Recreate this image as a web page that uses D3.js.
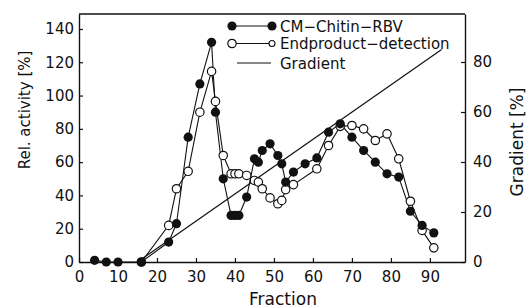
<!DOCTYPE html>
<html>
<head>
<meta charset="utf-8">
<script src="https://cdn.jsdelivr.net/npm/d3@7"></script>
<style>
  body { margin: 0; background: #fff; }
  text { font-family: "DejaVu Sans", sans-serif; fill: #111; }
</style>
</head>
<body>
<div id="chart-area"></div>
<script>
// CM-Chitin-RBV (filled)
let rbvX = [4, 7, 10, 16, 23, 25, 28, 31, 34, 35, 37, 39, 40, 41, 43, 45, 46, 47, 49, 51, 52, 53, 55, 58, 61, 64, 67, 70, 73, 76, 79, 82, 85, 88, 91];
let rbvY = [1, 0, 0, 0, 12, 23, 75, 107, 132, 90, 50, 28, 28, 28, 39, 62, 60, 67, 71, 64, 59, 48, 54, 59, 62.5, 78, 83, 75, 67, 60, 53, 51, 30.5, 22, 17.5];

// Endproduct-detection (open)
let endX = [16, 23, 25, 28, 31, 34, 35, 37, 39, 40, 41, 43, 45, 46, 47, 49, 51, 52, 53, 55, 61, 64, 67, 70, 73, 76, 79, 82, 85, 88, 91];
let endY = [0, 22, 44, 54.5, 90, 114.5, 96.5, 64, 53, 53, 53, 52, 49, 48, 44, 38.5, 35, 37, 43.5, 46.5, 56, 70, 81.5, 82, 80, 73, 77, 62, 36.5, 19, 8.5];

// Gradient (right axis)
let gradX = [15, 93];
let gradY = [0, 85];

let xTicks = [0, 10, 20, 30, 40, 50, 60, 70, 80, 90];
let yTicks = [0, 20, 40, 60, 80, 100, 120, 140];
let y2Ticks = [0, 20, 40, 60, 80];

let margin = { left: 79, right: 61, top: 14, bottom: 46 };
let W = 526, H = 308;
let width = W - margin.left - margin.right,
    height = H - margin.top - margin.bottom;

let svg = d3.select("#chart-area")
    .append("svg")
    .attr("width", W)
    .attr("height", H);

let g = svg.append("g")
    .attr("transform", "translate(" + margin.left + "," + margin.top + ")");

let x = d3.scaleLinear().domain([0, 99]).range([0, width]);
let y = d3.scaleLinear().domain([0, 149]).range([height, 0]);
let y2 = d3.scaleLinear().domain([0, 99.2]).range([height, 0]);

// Axes (ticks point inward)
let xAxis = g.append("g")
    .attr("transform", "translate(0," + height + ")")
    .call(d3.axisBottom(x).tickValues(xTicks).tickSizeInner(-4).tickSizeOuter(0).tickPadding(9));

let yAxis = g.append("g")
    .call(d3.axisLeft(y).tickValues(yTicks).tickSizeInner(-4).tickSizeOuter(0).tickPadding(5));

let y2Axis = g.append("g")
    .attr("transform", "translate(" + width + ",0)")
    .call(d3.axisRight(y2).tickValues(y2Ticks).tickSizeInner(-4).tickSizeOuter(0).tickPadding(8));

[xAxis, yAxis, y2Axis].forEach(function(a) {
    a.select(".domain").attr("stroke", "#111").attr("stroke-width", 1.4);
    a.selectAll(".tick line").attr("stroke", "#111").attr("stroke-width", 1.2);
    a.selectAll(".tick text")
        .attr("font-size", "15px")
        .attr("font-family", "DejaVu Sans, sans-serif")
        .attr("fill", "#111");
});

// top border
g.append("line")
    .attr("x1", 0).attr("x2", width)
    .attr("y1", 0).attr("y2", 0)
    .attr("stroke", "#111").attr("stroke-width", 1.4);

// Axis titles
g.append("text")
    .attr("x", width / 2 + 11)
    .attr("y", height + 43)
    .attr("font-size", "17px")
    .attr("text-anchor", "middle")
    .text("Fraction");

g.append("text")
    .attr("transform", "rotate(-90)")
    .attr("x", -96)
    .attr("y", -49)
    .attr("font-size", "15px")
    .attr("text-anchor", "middle")
    .text("Rel. activity [%]");

g.append("text")
    .attr("transform", "rotate(-90)")
    .attr("x", -128)
    .attr("y", width + 58)
    .attr("font-size", "17px")
    .attr("text-anchor", "middle")
    .text("Gradient [%]");

// Gradient line
let gradData = gradX.map(function(d, i) { return [d, gradY[i]]; });
g.append("path")
    .datum(gradData)
    .attr("fill", "none")
    .attr("stroke", "#111")
    .attr("stroke-width", 1.2)
    .attr("d", d3.line()
        .x(function(d) { return x(d[0]); })
        .y(function(d) { return y2(d[1]); }));

let endData = endX.map(function(d, i) { return [d, endY[i]]; });
let rbvData = rbvX.map(function(d, i) { return [d, rbvY[i]]; });

let line = d3.line()
    .x(function(d) { return x(d[0]); })
    .y(function(d) { return y(d[1]); });

g.append("path")
    .datum(endData)
    .attr("fill", "none")
    .attr("stroke", "#111")
    .attr("stroke-width", 1.1)
    .attr("d", line);

g.append("path")
    .datum(rbvData)
    .attr("fill", "none")
    .attr("stroke", "#111")
    .attr("stroke-width", 1.1)
    .attr("d", line);

// open circles
g.append("g").selectAll("circle")
    .data(endData)
    .enter().append("circle")
    .attr("cx", function(d) { return x(d[0]); })
    .attr("cy", function(d) { return y(d[1]); })
    .attr("r", 4.2)
    .attr("fill", "#fff")
    .attr("stroke", "#111")
    .attr("stroke-width", 1.2);

// filled circles
g.append("g").selectAll("circle")
    .data(rbvData)
    .enter().append("circle")
    .attr("cx", function(d) { return x(d[0]); })
    .attr("cy", function(d) { return y(d[1]); })
    .attr("r", 4.6)
    .attr("fill", "#111");

// Legend
let legend = svg.append("g")
    .attr("transform", "translate(232,0)");

legend.append("line")
    .attr("x1", 0).attr("x2", 40).attr("y1", 26).attr("y2", 26)
    .attr("stroke", "#111").attr("stroke-width", 1.1);
legend.append("circle").attr("cx", 0).attr("cy", 26).attr("r", 4.6).attr("fill", "#111");
legend.append("circle").attr("cx", 40).attr("cy", 26).attr("r", 4.6).attr("fill", "#111");
legend.append("text")
    .attr("x", 48).attr("y", 31.5)
    .attr("font-size", "15px")
    .text("CM\u2212Chitin\u2212RBV");

legend.append("line")
    .attr("x1", 0).attr("x2", 40).attr("y1", 43.5).attr("y2", 43.5)
    .attr("stroke", "#111").attr("stroke-width", 1.1);
legend.append("circle").attr("cx", 0).attr("cy", 43.5).attr("r", 4.2)
    .attr("fill", "#fff").attr("stroke", "#111").attr("stroke-width", 1.2);
legend.append("circle").attr("cx", 40).attr("cy", 43.5).attr("r", 3)
    .attr("fill", "#fff").attr("stroke", "#111").attr("stroke-width", 1.1);
legend.append("text")
    .attr("x", 48).attr("y", 49)
    .attr("font-size", "15px")
    .text("Endproduct\u2212detection");

legend.append("line")
    .attr("x1", 5).attr("x2", 39).attr("y1", 63).attr("y2", 63)
    .attr("stroke", "#111").attr("stroke-width", 1.1);
legend.append("text")
    .attr("x", 48).attr("y", 68.5)
    .attr("font-size", "15px")
    .text("Gradient");
</script>
</body>
</html>
